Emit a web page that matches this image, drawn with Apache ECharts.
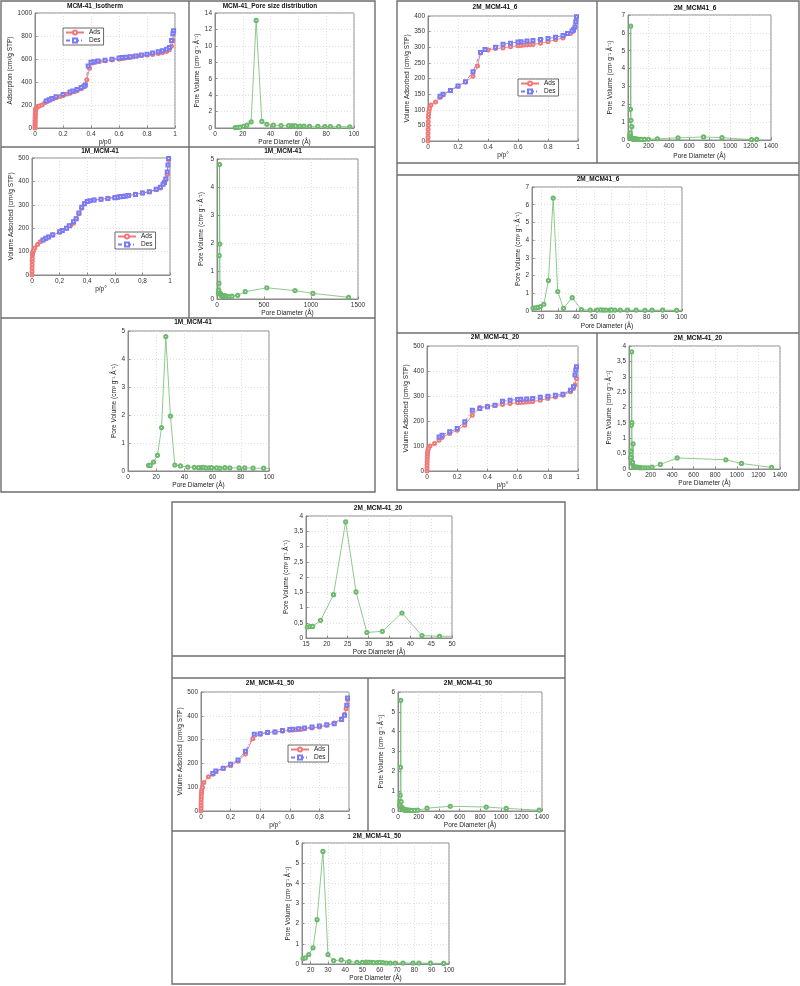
<!DOCTYPE html>
<html><head><meta charset="utf-8">
<script src="https://cdn.jsdelivr.net/npm/echarts@6/dist/echarts.min.js"></script>
<style>html,body{margin:0;padding:0;background:#fff}#c{width:800px;height:986px}</style>
</head><body><div id="c"></div>
<script>
// ---------- DATA ----------
// MCM-41 isotherm
var isoA_ads_p = [0,0.0002,0.0004,0.0006,0.0008, 0.001,0.0013,0.0016,0.002,0.0025, 0.003,0.004,0.005,0.007,0.01, 0.015,0.02,0.03,0.05,0.07, 0.09,0.11,0.13,0.15,0.18, 0.2,0.23,0.25,0.28,0.3, 0.33,0.35,0.37,0.39,0.41, 0.43,0.46,0.5,0.55,0.6, 0.61,0.62,0.63,0.64,0.65, 0.66,0.67,0.68,0.7,0.73, 0.76,0.8,0.84,0.88,0.91, 0.94,0.96,0.975,0.985,0.99];
var isoA_ads_v = [0,15,30,45,60, 75,90,100,115,128, 140,155,165,172,178, 183,187,192,200,220, 232,244,254,262,274, 283,295,303,315,325, 342,358,420,520,565, 572,578,585,592,600, 602,604,606,608,610, 612,614,616,620,626, 630,634,640,647,654, 665,680,710,760,835];
var isoA_des_p = [0.99,0.985,0.975,0.96,0.94, 0.91,0.88,0.84,0.8,0.76, 0.72,0.68,0.65,0.62,0.6, 0.55,0.5,0.45,0.42,0.4, 0.38,0.36,0.35,0.33,0.3, 0.27,0.25,0.2,0.15,0.12, 0.1,0.08];
var isoA_des_v = [845,820,760,700,685, 672,662,652,642,634, 626,620,616,612,608, 598,590,582,576,572, 540,375,365,352,335, 322,312,292,272,256, 245,235];
// MCM-41 pore size distribution
var psdA_d = [14.5,16,18,20.5,23, 26,29.6,33.7,37.3,42, 47.5,53,55,56.5,58, 61,64,68,74,79, 83,89,97];
var psdA_v = [0.05,0.07,0.1,0.2,0.35, 0.75,13.1,0.8,0.45,0.35, 0.3,0.28,0.27,0.26,0.25, 0.24,0.22,0.2,0.19,0.18, 0.17,0.16,0.15];
// 1M_MCM-41 isotherm
var iso1M_ads_p = [0,0.0003,0.0006,0.001,0.0015, 0.002,0.003,0.004,0.006,0.008, 0.01,0.02,0.04,0.06,0.08, 0.1,0.12,0.15,0.2,0.25, 0.28,0.3,0.32,0.34,0.36, 0.38,0.4,0.45,0.5,0.55, 0.6,0.62,0.64,0.66,0.68, 0.7,0.75,0.8,0.85,0.9, 0.93,0.95,0.97,0.98,0.99];
var iso1M_ads_v = [0,15,30,45,60, 72,85,92,98,102, 105,115,130,142,150, 155,162,170,183,200, 212,221,240,262,285, 305,314,320,324,328, 331,333,335,337,338, 340,345,350,356,364, 372,389,410,430,493];
var iso1M_des_p = [0.99,0.985,0.98,0.97,0.96, 0.95,0.93,0.9,0.85,0.8, 0.75,0.7,0.68,0.66,0.64, 0.62,0.6,0.55,0.5,0.45, 0.42,0.4,0.38,0.36,0.34, 0.32,0.3,0.27,0.25,0.22, 0.2,0.15,0.12,0.1,0.08];
var iso1M_des_v = [498,470,440,410,395, 388,375,366,356,350, 344,340,338,336,334, 332,330,327,324,320, 317,314,305,290,265, 240,228,210,200,190, 185,172,162,157,150];
// 1M_MCM-41 PSD
var psd1M_d = [14.6,15.8,18.1,20.9,23.8, 26.8,30.1,33.2,37.2,42.4, 47,50,52.2,53.4,55.3, 57.6,59.3,62.8,65.2,68.7, 72.2,78.8,82.8,88.7,96.2, 110,130,160,220,300, 530,830,1020,1400];
var psd1M_v = [0.2,0.2,0.32,0.56,1.55, 4.8,1.96,0.21,0.18,0.14, 0.13,0.12,0.12,0.13,0.11, 0.11,0.12,0.11,0.1,0.12, 0.11,0.11,0.11,0.1,0.1, 0.09,0.08,0.1,0.13,0.26, 0.4,0.3,0.2,0.06];
// 2M_MCM-41_6 isotherm
var iso6_ads_p = [0,0.0003,0.0006,0.001,0.0015, 0.002,0.003,0.004,0.006,0.01, 0.02,0.05,0.08,0.1,0.15, 0.2,0.25,0.3,0.33,0.35, 0.4,0.45,0.5,0.55,0.6, 0.62,0.64,0.66,0.68,0.7, 0.75,0.8,0.85,0.9,0.95, 0.97,0.98,0.99];
var iso6_ads_v = [0,12,25,38,50, 62,75,85,95,105, 115,125,139,147,162, 175,189,207,240,282, 291,296,298,302,305, 306,307,308,309,309, 313,318,324,330,344, 352,366,396];
var iso6_des_p = [0.99,0.985,0.98,0.97,0.96, 0.93,0.9,0.85,0.8,0.75, 0.7,0.66,0.62,0.6,0.55, 0.5,0.45,0.38,0.35,0.3, 0.25,0.2,0.15,0.1,0.08];
var iso6_des_v = [398,382,365,356,352, 344,338,332,328,325, 322,320,318,317,313, 310,300,293,283,222, 190,176,162,150,143];
// 2M_MCM41_6 PSD
var psd6_d = [15.6,16.9,18.4,19.8,21.7, 24.3,27,29.6,32.8,37.8, 43,48,52,54,55.5, 57,59,60,62,65, 69,74,79,83,89, 97,110,130,160,200, 287,490,740,920,1210, 1260];
var psd6_v = [0.17,0.18,0.2,0.25,0.38, 1.72,6.38,1.1,0.15,0.75, 0.08,0.05,0.05,0.06,0.05, 0.05,0.05,0.06,0.05,0.05, 0.05,0.05,0.04,0.05,0.05, 0.04,0.04,0.03,0.03,0.04, 0.07,0.12,0.17,0.13,0.02, 0.03];
// 2M_MCM-41_20 isotherm
var iso20_ads_p = [0,0.0003,0.0006,0.001,0.0015, 0.002,0.003,0.004,0.006,0.01, 0.02,0.05,0.08,0.1,0.15, 0.2,0.25,0.3,0.35,0.4, 0.45,0.5,0.55,0.6,0.62, 0.64,0.66,0.68,0.7,0.75, 0.8,0.85,0.9,0.95,0.97, 0.98,0.99];
var iso20_ads_v = [0,12,24,36,48, 58,68,76,84,92, 100,110,123,134,150, 163,183,223,254,259, 262,266,270,273,274, 275,276,277,278,283, 290,296,303,317,330, 344,370];
var iso20_des_p = [0.99,0.985,0.98,0.97,0.95, 0.9,0.85,0.8,0.75,0.7, 0.66,0.62,0.6,0.55,0.5, 0.45,0.4,0.35,0.3,0.25, 0.2,0.15,0.1,0.08];
var iso20_des_v = [417,404,384,337,323, 307,303,299,295,290, 288,287,286,283,279, 263,257,250,243,197, 170,157,143,136];
// 2M_MCM-41_20 PSD
var psd20_d = [15.3,16,16.6,18.5,21.6, 24.5,27,29.6,33.3,38, 42.8,47,52,55,58, 62,66,70,75,80, 86,92,100,110,125, 150,176,213,291,446, 898,1043,1322];
var psd20_v = [0.36,0.38,0.38,0.58,1.42, 3.81,1.51,0.18,0.22,0.82, 0.08,0.055,0.06,0.06,0.055, 0.05,0.05,0.05,0.05,0.05, 0.05,0.045,0.045,0.04,0.04, 0.04,0.04,0.06,0.15,0.36, 0.3,0.18,0.05];
// 2M_MCM-41_50 isotherm
var iso50_ads_p = [0,0.0003,0.0006,0.001,0.0015, 0.002,0.003,0.004,0.006,0.01, 0.02,0.05,0.08,0.1,0.15, 0.2,0.25,0.3,0.35,0.4, 0.45,0.5,0.55,0.6,0.62, 0.64,0.66,0.68,0.7,0.75, 0.8,0.85,0.9,0.95,0.97, 0.98,0.99];
var iso50_ads_v = [0,12,24,36,48, 60,72,82,92,100, 120,144,154,165,179, 190,209,239,304,323, 330,332,335,339,340, 341,342,343,346,349, 353,360,370,388,405, 430,469];
var iso50_des_p = [0.99,0.985,0.97,0.95,0.9, 0.85,0.8,0.75,0.7,0.66, 0.62,0.6,0.55,0.5,0.45, 0.4,0.36,0.3,0.25,0.2, 0.15,0.1,0.08];
var iso50_des_v = [475,444,402,384,367, 362,357,353,349,346, 343,342,338,332,330, 325,323,251,214,196, 180,168,158];
// 2M_MCM-41_50 PSD
var psd50_d = [15.6,16.9,18.9,21.4,23.7, 27.1,30,33.3,37.7,42.2, 46.8,49.9,52.2,53.7,55, 56.4,58.4,59.9,61.8,63.7, 66,68.8,73.4,79.2,82.6, 89.2,96.9,110,130,160, 191,282,508,858,1052, 1372];
var psd50_v = [0.27,0.3,0.47,0.8,2.2, 5.58,0.47,0.17,0.2,0.12, 0.08,0.08,0.1,0.08,0.08, 0.07,0.07,0.08,0.07,0.05, 0.05,0.05,0.05,0.05,0.05, 0.04,0.03,0.04,0.03,0.03, 0.04,0.14,0.24,0.2,0.13, 0.04];

var titles = ['MCM-41_Isotherm','MCM-41_Pore size distribution','1M_MCM-41','1M_MCM-41','1M_MCM-41',
  '2M_MCM-41_6','2M_MCM41_6','2M_MCM41_6','2M_MCM-41_20','2M_MCM-41_20','2M_MCM-41_20',
  '2M_MCM-41_50','2M_MCM-41_50','2M_MCM-41_50'];
var NAME_ADS = 'Adsorption (cm\u00B3/g STP)';
var NAME_VOL = 'Volume Adsorbed (cm\u00B3/g STP)';
var NAME_PV = 'Pore Volume (cm\u00B3 g\u207B\u00B9 \u00C5\u207B\u00B9)';
var NAME_PD = 'Pore Diameter (\u00C5)';

// ---------- LAYOUT ----------
function zip(a,b){var r=[];for(var i=0;i<a.length;i++)r.push([a[i],b[i]]);return r;}
var FONT='Liberation Sans, Arial, sans-serif';
var RED='#f07878', BLUE='#7a7af2', GREEN='#6cb86c';

var panels = [
 {t:0, g:[35,13,140,115], tc:[95,6], type:'iso', ads:[isoA_ads_p,isoA_ads_v], des:[isoA_des_p,isoA_des_v],
  x:{min:0,max:1,interval:0.2,name:'p/p0',gap:7}, y:{min:0,max:1000,interval:200,name:NAME_ADS,gap:21}, comma:false, legend:[63,28]},
 {t:1, g:[215,13,139,115], tc:[270,6], type:'psd', d:[psdA_d,psdA_v],
  x:{min:0,max:100,interval:20,name:NAME_PD,gap:5}, y:{min:0,max:14,interval:2,name:NAME_PV,gap:10}},
 {t:2, g:[32,158,138,117], tc:[100,151], type:'iso', ads:[iso1M_ads_p,iso1M_ads_v], des:[iso1M_des_p,iso1M_des_v],
  x:{min:0,max:1,interval:0.2,name:'p/p\u00B0',gap:6}, y:{min:0,max:500,interval:100,name:NAME_VOL,gap:14}, comma:true, legend:[115,232]},
 {t:3, g:[217,159,141,140], tc:[283,151], type:'psd', d:[psd1M_d,psd1M_v],
  x:{min:0,max:1500,interval:500,name:NAME_PD,gap:9}, y:{min:0,max:5,interval:1,name:NAME_PV,gap:12}},
 {t:4, g:[128,331,141,140], tc:[193,322], type:'psd', d:[psd1M_d,psd1M_v],
  x:{min:0,max:100,interval:20,name:NAME_PD,gap:9}, y:{min:0,max:5,interval:1,name:NAME_PV,gap:9}},
 {t:5, g:[428,16,150,125], tc:[495,7], type:'iso', ads:[iso6_ads_p,iso6_ads_v], des:[iso6_des_p,iso6_des_v],
  x:{min:0,max:1,interval:0.2,name:'p/p\u00B0',gap:8}, y:{min:0,max:400,interval:50,name:NAME_VOL,gap:17}, comma:false, legend:[518,79]},
 {t:6, g:[628,15,143,125], tc:[695,8], type:'psd', d:[psd6_d,psd6_v],
  x:{min:0,max:1400,interval:200,name:NAME_PD,gap:13}, y:{min:0,max:7,interval:1,name:NAME_PV,gap:14}},
 {t:7, g:[532,187,150,124], tc:[598,179], type:'psd', d:[psd6_d,psd6_v],
  x:{min:15,max:100,split:9,hideMin:true,name:NAME_PD,gap:12}, y:{min:0,max:7,interval:1,name:NAME_PV,gap:10}},
 {t:8, g:[427,346,151,125], tc:[495,337], type:'iso', ads:[iso20_ads_p,iso20_ads_v], des:[iso20_des_p,iso20_des_v],
  x:{min:0,max:1,interval:0.2,name:'p/p\u00B0',gap:9}, y:{min:0,max:500,interval:100,name:NAME_VOL,gap:16}, comma:false},
 {t:9, g:[629,346,151,123], tc:[698,338], type:'psd', d:[psd20_d,psd20_v],
  x:{min:0,max:1400,interval:200,name:NAME_PD,gap:10}, y:{min:0,max:4,interval:0.5,name:NAME_PV,gap:15}, comma:true},
 {t:10, g:[306,516,146,122], tc:[378,508], type:'psd', d:[psd20_d,psd20_v],
  x:{min:15,max:50,interval:5,name:NAME_PD,gap:9}, y:{min:0,max:4,interval:0.5,name:NAME_PV,gap:9}, comma:true},
 {t:11, g:[201,692,148,119], tc:[270,683], type:'iso', ads:[iso50_ads_p,iso50_ads_v], des:[iso50_des_p,iso50_des_v],
  x:{min:0,max:1,interval:0.2,name:'p/p\u00B0',gap:6}, y:{min:0,max:500,interval:100,name:NAME_VOL,gap:15}, comma:true, legend:[288,745]},
 {t:12, g:[398,692,144,119], tc:[468,683], type:'psd', d:[psd50_d,psd50_v],
  x:{min:0,max:1400,interval:200,name:NAME_PD,gap:10}, y:{min:0,max:6,interval:1,name:NAME_PV,gap:13}},
 {t:13, g:[302,843,147,121], tc:[377,836], type:'psd', d:[psd50_d,psd50_v],
  x:{min:15,max:100,split:9,hideMin:true,name:NAME_PD,gap:9}, y:{min:0,max:6,interval:1,name:NAME_PV,gap:6}}
];

function fmt(comma){return function(v){var s=String(+(+v).toFixed(4));return comma?s.replace('.',','):s;};}
function axis(gi,o,comma){
  var a={type:'value',gridIndex:gi,min:o.min,max:o.max,name:o.name,nameLocation:'middle',nameGap:o.gap,
    nameTextStyle:{fontSize:6.5,color:'#222',fontFamily:FONT},
    axisLine:{show:true,onZero:false,lineStyle:{color:'#8a8a8a',width:1}},
    axisTick:{show:true,inside:true,length:2.5,lineStyle:{color:'#8a8a8a'}},
    axisLabel:{fontSize:6.5,color:'#333',margin:3,fontFamily:FONT,formatter:fmt(comma)},
    splitLine:{show:true,lineStyle:{color:'#d8d8d8',type:[1,2],width:0.8}}};
  if(o.interval!=null)a.interval=o.interval;
  if(o.split!=null)a.splitNumber=o.split;
  if(o.hideMin)a.axisLabel.showMinLabel=false;
  return a;
}
var grids=[],xAxes=[],yAxes=[],series=[],legends=[],graphics=[];
panels.forEach(function(p,i){
  grids.push({left:p.g[0],top:p.g[1],width:p.g[2],height:p.g[3],show:true,borderColor:'#8a8a8a',borderWidth:1,backgroundColor:'#fff',containLabel:false});
  xAxes.push(axis(i,p.x,p.type==='iso'?p.comma:false));
  yAxes.push(axis(i,p.y,p.type==='psd'?!!p.comma:false));
  if(p.type==='iso'){
    series.push({name:'Ads',type:'line',xAxisIndex:i,yAxisIndex:i,data:zip(p.ads[0],p.ads[1]),symbol:'emptyCircle',symbolSize:3,
      itemStyle:{color:RED,borderWidth:0.6},lineStyle:{color:RED,width:0.9},animation:false});
    series.push({name:'Des',type:'line',xAxisIndex:i,yAxisIndex:i,data:zip(p.des[0],p.des[1]),symbol:'emptyRect',symbolSize:3,
      itemStyle:{color:BLUE,borderWidth:0.6},lineStyle:{color:BLUE,width:0.9,type:[4,2,1,2]},animation:false});
    if(p.legend){
      legends.push({left:p.legend[0],top:p.legend[1],orient:'vertical',data:['Ads','Des'],selectedMode:false,
        borderColor:'#444',borderWidth:0.8,backgroundColor:'#fff',padding:[1,3,1,2],itemGap:1,itemWidth:18,itemHeight:5,
        textStyle:{fontSize:6.5,color:'#222',fontFamily:FONT}});
    }
  } else {
    series.push({name:'psd'+i,type:'line',xAxisIndex:i,yAxisIndex:i,data:zip(p.d[0],p.d[1]),symbol:'emptyCircle',symbolSize:3.2,
      itemStyle:{color:GREEN,borderWidth:0.6},lineStyle:{color:GREEN,width:0.9,opacity:0.85},animation:false});
  }
  graphics.push({type:'text',x:p.tc[0],y:p.tc[1],style:{text:titles[p.t],textAlign:'center',textVerticalAlign:'middle',
    font:'bold 6.5px '+FONT,fill:'#111'}});
});
// panel borders
var BC='#6e6e6e', BW=1.4;
function L(x1,y1,x2,y2){graphics.push({type:'line',shape:{x1:x1,y1:y1,x2:x2,y2:y2},style:{stroke:BC,lineWidth:BW},z:10});}
function R(x,y,w,h){graphics.push({type:'rect',shape:{x:x,y:y,width:w,height:h},style:{stroke:BC,lineWidth:BW,fill:null},z:10});}
R(1,1,374,491); L(189,1,189,318); L(1,147,375,147); L(1,318,375,318);
R(397,1,402,489); L(597,1,597,163); L(597,333,597,490); L(397,163,799,163); L(397,175,799,175); L(397,333,799,333);
R(172,502,393,482); L(172,656,565,656); L(172,678,565,678); L(172,831,565,831); L(368,678,368,831);

var chart=echarts.init(document.getElementById('c'),null,{renderer:'canvas'});
chart.setOption({animation:false,backgroundColor:'#fff',grid:grids,xAxis:xAxes,yAxis:yAxes,series:series,legend:legends,graphic:graphics});
</script></body></html>
